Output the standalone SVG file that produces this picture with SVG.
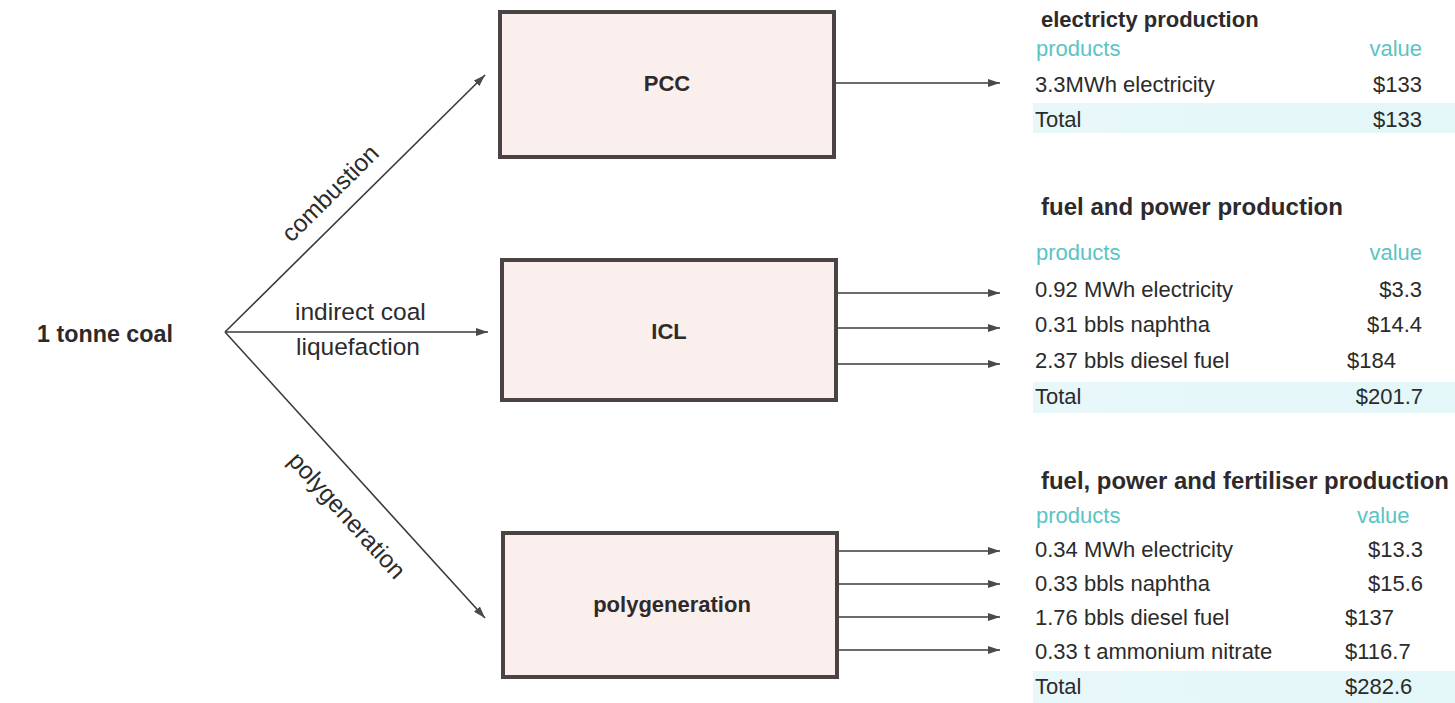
<svg xmlns="http://www.w3.org/2000/svg" width="1455" height="703" viewBox="0 0 1455 703">
<defs>
<style>
.box{fill:#fbefed;stroke:#4b4244;stroke-width:4}
.bl{font-family:"Liberation Sans",Arial,sans-serif;font-weight:bold;font-size:22px;fill:#2e2a2b}
.lbl{font-family:"Liberation Sans",Arial,sans-serif;font-size:24.5px;fill:#2b2b2b}
.row{font-family:"Liberation Sans",Arial,sans-serif;font-size:22px;fill:#2b2b2b}
.hd{font-family:"Liberation Sans",Arial,sans-serif;font-weight:bold;font-size:22px;fill:#2e2a2b}
.tl{font-family:"Liberation Sans",Arial,sans-serif;font-size:22px;fill:#5cc3c3}
.conn{stroke:#3a3a3a;stroke-width:1.6;fill:none;marker-end:url(#ah)}
.band{fill:url(#bg)}
</style>
<marker id="ah" viewBox="0 0 12 8" refX="12" refY="4" markerWidth="12" markerHeight="8" markerUnits="userSpaceOnUse" orient="auto">
<path d="M0,0 L12,4 L0,8 Z" fill="#4a4a4a"/>
</marker>
<linearGradient id="bg" x1="0" y1="0" x2="1" y2="0">
<stop offset="0" stop-color="#e8f8fa"/>
<stop offset="1" stop-color="#e3f6f8"/>
</linearGradient>
</defs>
<rect width="1455" height="703" fill="#ffffff"/>

<g id="coal">
<text class="bl" x="37" y="342" style="font-size:23.3px">1 tonne coal</text>
</g>

<g id="connectors">
<line class="conn" x1="225" y1="332" x2="485" y2="75"/>
<line class="conn" x1="225" y1="332" x2="488" y2="332"/>
<line class="conn" x1="225" y1="332" x2="485" y2="618"/>
<line class="conn" x1="836" y1="83" x2="1000" y2="83"/>
<line class="conn" x1="838" y1="293" x2="1000" y2="293"/>
<line class="conn" x1="838" y1="328" x2="1000" y2="328"/>
<line class="conn" x1="838" y1="364" x2="1000" y2="364"/>
<line class="conn" x1="839" y1="551" x2="1000" y2="551"/>
<line class="conn" x1="839" y1="584" x2="1000" y2="584"/>
<line class="conn" x1="839" y1="617" x2="1000" y2="617"/>
<line class="conn" x1="839" y1="650" x2="1000" y2="650"/>
<text class="lbl" text-anchor="middle" transform="translate(336,199) rotate(-44.8)">combustion</text>
<text class="lbl" x="295" y="320">indirect coal</text>
<text class="lbl" x="296" y="355">liquefaction</text>
<text class="lbl" text-anchor="middle" transform="translate(341,521) rotate(47.8)">polygeneration</text>
</g>

<g id="pcc">
<rect class="box" x="500" y="12" width="334" height="145"/>
<text class="bl" x="667" y="91" text-anchor="middle">PCC</text>
</g>
<g id="icl">
<rect class="box" x="502" y="260" width="334" height="140"/>
<text class="bl" x="669" y="339" text-anchor="middle">ICL</text>
</g>
<g id="polygeneration">
<rect class="box" x="503" y="533" width="334" height="144"/>
<text class="bl" x="672" y="612" text-anchor="middle">polygeneration</text>
</g>

<g id="table-electricity">
<rect class="band" x="1033" y="103" width="422" height="30"/>
<text class="hd" x="1041" y="27">electricty production</text>
<text class="tl" x="1036" y="56">products</text>
<text class="tl" x="1422" y="56" text-anchor="end">value</text>
<text class="row" x="1035" y="92">3.3MWh electricity</text>
<text class="row" x="1422" y="92" text-anchor="end">$133</text>
<text class="row" x="1035" y="127">Total</text>
<text class="row" x="1422" y="127" text-anchor="end">$133</text>
</g>

<g id="table-fuel-power">
<rect class="band" x="1033" y="382" width="422" height="31"/>
<text class="hd" x="1041" y="215" style="font-size:23px" textLength="302" lengthAdjust="spacingAndGlyphs">fuel and power production</text>
<text class="tl" x="1036" y="260">products</text>
<text class="tl" x="1422" y="260" text-anchor="end">value</text>
<text class="row" x="1035" y="297">0.92 MWh electricity</text>
<text class="row" x="1422" y="297" text-anchor="end">$3.3</text>
<text class="row" x="1035" y="332">0.31 bbls naphtha</text>
<text class="row" x="1422" y="332" text-anchor="end">$14.4</text>
<text class="row" x="1035" y="368">2.37 bbls diesel fuel</text>
<text class="row" x="1347" y="368">$184</text>
<text class="row" x="1035" y="404">Total</text>
<text class="row" x="1423" y="404" text-anchor="end">$201.7</text>
</g>

<g id="table-fuel-power-fertiliser">
<rect class="band" x="1033" y="671" width="422" height="32"/>
<text class="hd" x="1041" y="489" style="font-size:23px" textLength="408" lengthAdjust="spacingAndGlyphs">fuel, power and fertiliser production</text>
<text class="tl" x="1036" y="523">products</text>
<text class="tl" x="1357" y="523">value</text>
<text class="row" x="1035" y="557">0.34 MWh electricity</text>
<text class="row" x="1423" y="557" text-anchor="end">$13.3</text>
<text class="row" x="1035" y="591">0.33 bbls naphtha</text>
<text class="row" x="1423" y="591" text-anchor="end">$15.6</text>
<text class="row" x="1035" y="625">1.76 bbls diesel fuel</text>
<text class="row" x="1345" y="625">$137</text>
<text class="row" x="1035" y="659">0.33 t ammonium nitrate</text>
<text class="row" x="1345" y="659">$116.7</text>
<text class="row" x="1035" y="694">Total</text>
<text class="row" x="1345" y="694">$282.6</text>
</g>
</svg>
